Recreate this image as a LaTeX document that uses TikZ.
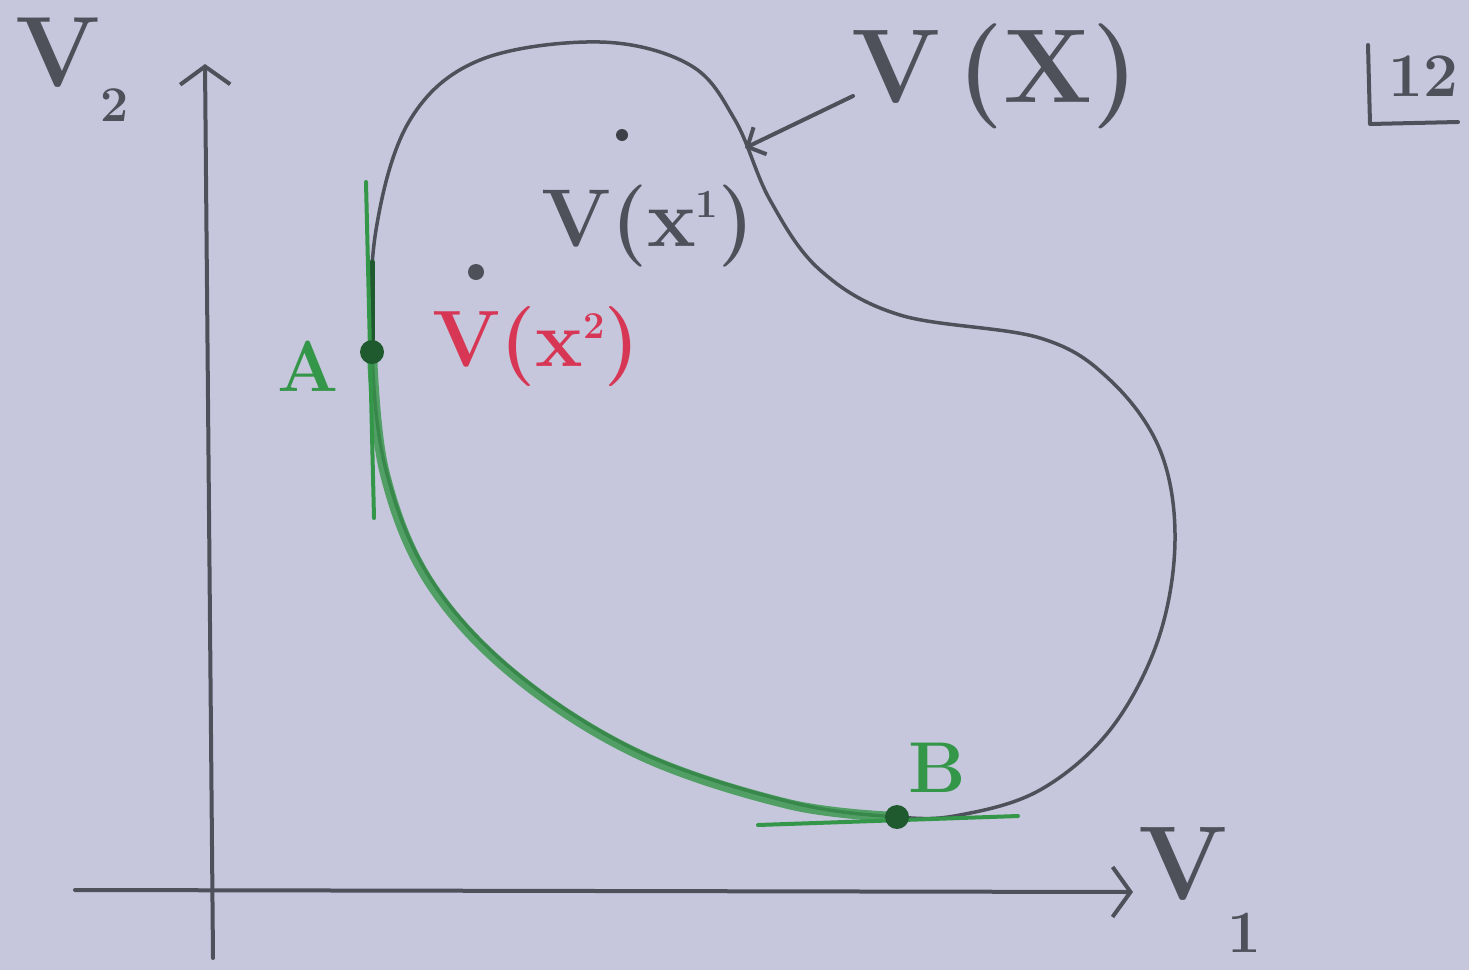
\documentclass[tikz,border=0pt]{standalone}
\usetikzlibrary{arrows.meta}
\definecolor{bg}{RGB}{198,199,220}
\definecolor{ink}{RGB}{78,80,90}
\definecolor{gr}{RGB}{52,150,72}
\definecolor{dgr}{RGB}{30,90,45}
\definecolor{rd}{RGB}{215,55,85}
\tikzset{
  pen/.style={draw=ink, line width=4pt, line cap=round, line join=round},
  gpen/.style={draw=gr, line width=4pt, line cap=round},
  lbl/.style={text=ink, inner sep=0pt, font=\bfseries},
  hand/.style={pen, -{Straight Barb[length=18pt,width=50pt,line width=4pt]}},
}
\begin{document}
\begin{tikzpicture}[x=1pt,y=-1pt]
\fill[bg] (0,0) rectangle (1469,970);
\useasboundingbox (0,0) rectangle (1469,970);
% axes
\coordinate (o1) at (213,958);
\coordinate (ytip) at (205,64);
\coordinate (o2) at (75,890);
\coordinate (xtip) at (1133,892);
\draw[hand] (o1) -- (ytip);
\draw[hand] (o2) -- (xtip);
% blob
\draw[pen, line width=3.5pt] plot[smooth cycle, tension=0.6] coordinates {
 (372,352) (376,230) (410,120) (480,60) (600,42) (690,65) (735,120)
 (770,200) (820,270) (900,315) (1040,338) (1110,380) (1160,450)
 (1175,540) (1158,640) (1110,730) (1040,790) (960,815) (897,817)
 (790,802) (640,752) (515,672) (430,578) (386,470)};
% green front
\draw[draw=gr, line width=10pt, line cap=round, opacity=0.8] plot[smooth, tension=0.6] coordinates {
 (372,352) (384,470) (428,580) (513,674) (638,754) (788,804) (897,817)};
\draw[draw=dgr, line width=5pt, line cap=round] (372,262) -- (372,352);
% tangents
\coordinate (ta1) at (366,182);
\coordinate (ta2) at (374,518);
\coordinate (tb1) at (758,825);
\coordinate (tb2) at (1018,816);
\draw[gpen] (ta1) -- (ta2);
\draw[gpen] (tb1) -- (tb2);
% points
\node[circle, fill=dgr, minimum size=24pt, inner sep=0pt] (A) at (372,352) {};
\node[circle, fill=dgr, minimum size=24pt, inner sep=0pt] (B) at (897,817) {};
\node[circle, fill=ink!80!black, minimum size=12pt, inner sep=0pt] (p1) at (622,135) {};
\node[circle, fill=ink, minimum size=16pt, inner sep=0pt] (p2) at (476,272) {};
% labels
\node[lbl] (lV2) at (72,70) {\fontsize{100}{100}\selectfont V\raisebox{-0.35em}{\fontsize{50}{50}\selectfont 2}};
\node[lbl] (lV1) at (1200,890) {\fontsize{105}{105}\selectfont V\raisebox{-0.5em}{\fontsize{60}{60}\selectfont 1}};
\node[lbl] (lVX) at (995,76) {\fontsize{105}{105}\selectfont V\,(X)};
\node[lbl] (lVx1) at (648,226) {\fontsize{82}{82}\selectfont V(x\raisebox{0.35em}{\fontsize{40}{40}\selectfont 1})};
\node[lbl, text=rd] (lVx2) at (536,347) {\fontsize{80}{80}\selectfont V(x\raisebox{0.35em}{\fontsize{38}{38}\selectfont 2})};
\node[lbl, text=gr] (lA) at (308,366) {\fontsize{72}{72}\selectfont A};
\node[lbl, text=gr] (lB) at (937,768) {\fontsize{72}{72}\selectfont B};
\node[lbl] (l12) at (1423,76) {\fontsize{62}{62}\selectfont 12};
\coordinate (c1) at (1368,45);
\coordinate (c2) at (1370,124);
\coordinate (c3) at (1458,122);
\draw[pen] (c1) -- (c2) -- (c3);
% arrow to boundary
\coordinate (bd) at (745,148);
\coordinate (as) at (853,96);
\draw[pen, -{Straight Barb[length=14pt,width=30pt,line width=4pt]}] (as) -- (bd);
\end{tikzpicture}
\end{document}
